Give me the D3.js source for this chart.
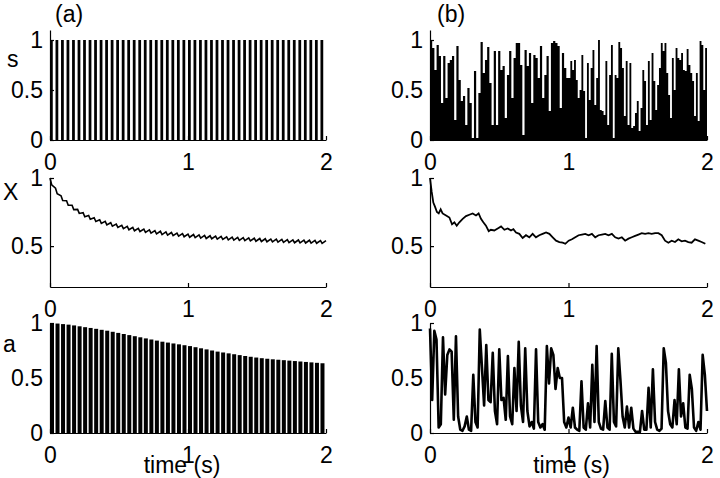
<!DOCTYPE html>
<html>
<head>
<meta charset="utf-8">
<script src="https://cdn.jsdelivr.net/npm/d3@7"></script>
<style>
body { margin: 0; background: #fff; }
svg { display: block; }
</style>
</head>
<body>
<div id="widget"></div>
<script>
/* Two columns of traces over 2 s:
	- (a) regular input: s, X, a
	- (b) irregular input: s, X, a
*/

// shared tick labels
var timeTicks = [0, 1, 2];
var sTicks = [0, 0.5, 1];
var xTicks = [0.5, 1];
var aTicks = [0, 0.5, 1];

// (a) spike times (s) and the spike value of s
var spikeTimesA = [0.00, 0.04, 0.08, 0.12, 0.16, 0.20, 0.24, 0.28, 0.32, 0.36,
	0.40, 0.44, 0.48, 0.52, 0.56, 0.60, 0.64, 0.68, 0.72, 0.76,
	0.80, 0.84, 0.88, 0.92, 0.96, 1.00, 1.04, 1.08, 1.12, 1.16,
	1.20, 1.24, 1.28, 1.32, 1.36, 1.40, 1.44, 1.48, 1.52, 1.56,
	1.60, 1.64, 1.68, 1.72, 1.76, 1.80, 1.84, 1.88, 1.92, 1.96];
var sSpikeValue = 1;

// (a) X just before and just after each spike
var xTopA = [1.00, 0.925, 0.87, 0.833, 0.80, 0.77, 0.745, 0.725, 0.708, 0.694,
	0.682, 0.672, 0.662, 0.653, 0.645, 0.638, 0.631, 0.625, 0.619, 0.614,
	0.609, 0.604, 0.60, 0.596, 0.592, 0.588, 0.585, 0.582, 0.579, 0.576,
	0.573, 0.571, 0.568, 0.566, 0.564, 0.562, 0.56, 0.558, 0.556, 0.554,
	0.552, 0.551, 0.549, 0.548, 0.546, 0.545, 0.544, 0.543, 0.542, 0.541];
var xBotA = [0.95, 0.885, 0.835, 0.80, 0.768, 0.74, 0.716, 0.697, 0.681, 0.667,
	0.656, 0.646, 0.637, 0.628, 0.62, 0.613, 0.607, 0.601, 0.595, 0.59,
	0.585, 0.581, 0.577, 0.573, 0.569, 0.565, 0.562, 0.559, 0.556, 0.554,
	0.551, 0.549, 0.546, 0.544, 0.542, 0.54, 0.538, 0.536, 0.534, 0.532,
	0.531, 0.529, 0.528, 0.526, 0.525, 0.524, 0.523, 0.522, 0.521, 0.52];
var xEndA = 0.54;

// (a) peak of a at each spike
var aPeaksA = [1.0, 0.995, 0.99, 0.985, 0.978, 0.97, 0.962, 0.955, 0.947, 0.938,
	0.93, 0.92, 0.91, 0.90, 0.89, 0.88, 0.87, 0.86, 0.85, 0.84,
	0.83, 0.822, 0.814, 0.806, 0.798, 0.79, 0.78, 0.77, 0.76, 0.75,
	0.74, 0.732, 0.724, 0.716, 0.708, 0.70, 0.693, 0.686, 0.68, 0.675,
	0.67, 0.666, 0.662, 0.658, 0.654, 0.65, 0.646, 0.642, 0.638, 0.634];

// (b) s, first and second second
var sFirstB = [1.00, 0.92, 0.70, 0.95, 0.84, 0.37, 0.84, 0.42, 0.77, 0.80,
	0.84, 0.20, 0.94, 0.60, 0.39, 0.44, 0.15, 0.52, 0.37, 0.02,
	0.69, 0.02, 0.47, 0.98, 0.67, 0.80, 0.93, 0.57, 0.15, 0.89,
	0.15, 0.89, 0.70, 0.74, 0.22, 0.65, 0.89, 0.42, 0.82, 0.97,
	0.97, 0.75, 0.05, 0.90, 0.74, 0.87, 0.37, 0.85, 0.82, 0.62,
	0.94, 0.42, 0.65, 0.84, 0.29, 0.97, 0.99, 0.97, 0.94, 0.32,
	0.87, 0.72, 0.62];
var sSecondB = [0.62, 0.79, 0.70, 0.80, 0.60, 0.42, 0.50, 0.85, 0.49, 0.02,
	0.77, 0.40, 0.72, 0.90, 0.35, 0.62, 1.00, 0.30, 0.29, 0.25,
	0.79, 0.15, 0.65, 0.95, 0.02, 0.65, 0.62, 0.98, 0.92, 0.72,
	0.24, 0.79, 0.15, 0.77, 0.12, 0.14, 0.27, 0.39, 0.09, 0.32,
	0.70, 0.59, 0.15, 0.79, 0.20, 0.87, 0.59, 0.30, 0.55, 0.72,
	0.97, 0.89, 0.97, 0.67, 0.45, 0.22, 0.82, 0.50, 0.92, 0.82,
	0.80, 0.87, 0.70, 0.69, 0.91, 0.75, 0.67, 0.59, 0.24, 0.67,
	0.19, 0.99, 0.95, 0.50, 0.92];

// (b) X trace
var xTimesB = [0, 0.012, 0.024, 0.036, 0.05, 0.063, 0.077, 0.091, 0.116, 0.14,
	0.159, 0.176, 0.193, 0.212, 0.236, 0.26, 0.284, 0.308, 0.332, 0.351,
	0.368, 0.385, 0.404, 0.424, 0.44, 0.464, 0.489, 0.513, 0.537, 0.561,
	0.585, 0.602, 0.621, 0.645, 0.669, 0.693, 0.717, 0.741, 0.765, 0.789,
	0.813, 0.838, 0.862, 0.886, 0.91, 0.934, 0.958, 0.977, 1.001, 1.025,
	1.049, 1.073, 1.097, 1.121, 1.145, 1.169, 1.193, 1.217, 1.241, 1.265,
	1.289, 1.313, 1.337, 1.361, 1.385, 1.409, 1.433, 1.457, 1.481, 1.505,
	1.529, 1.553, 1.577, 1.601, 1.625, 1.649, 1.673, 1.697, 1.721, 1.745,
	1.769, 1.793, 1.817, 1.841, 1.865, 1.889, 1.913, 1.937, 1.961, 1.988];
var xValuesB = [1.0, 0.90, 0.82, 0.79, 0.75, 0.74, 0.77, 0.74, 0.725, 0.71,
	0.66, 0.675, 0.65, 0.675, 0.70, 0.72, 0.73, 0.74, 0.725, 0.74,
	0.70, 0.675, 0.65, 0.61, 0.62, 0.615, 0.63, 0.645, 0.62, 0.63,
	0.615, 0.625, 0.60, 0.59, 0.56, 0.58, 0.565, 0.59, 0.565, 0.58,
	0.59, 0.60, 0.59, 0.565, 0.54, 0.53, 0.525, 0.517, 0.54, 0.55,
	0.565, 0.58, 0.585, 0.59, 0.58, 0.59, 0.565, 0.58, 0.585, 0.59,
	0.58, 0.59, 0.565, 0.555, 0.565, 0.54, 0.555, 0.565, 0.575, 0.585,
	0.595, 0.59, 0.595, 0.59, 0.595, 0.595, 0.58, 0.54, 0.525, 0.54,
	0.53, 0.55, 0.535, 0.54, 0.53, 0.525, 0.55, 0.54, 0.53, 0.517];

// (b) a, sampled every 1/64 s
var aFirstB = [0.95, 0.30, 0.93, 0.85, 0.05, 0.08, 0.87, 0.35, 0.71, 0.76,
	0.74, 0.12, 0.88, 0.15, 0.03, 0.02, 0.06, 0.15, 0.03, 0.02,
	0.53, 0.10, 0.05, 0.94, 0.60, 0.25, 0.80, 0.30, 0.28, 0.73,
	0.20, 0.08, 0.76, 0.30, 0.32, 0.12, 0.70, 0.15, 0.08, 0.59,
	0.20, 0.83, 0.25, 0.10, 0.77, 0.20, 0.06, 0.10, 0.04, 0.76,
	0.10, 0.05, 0.08, 0.03, 0.79, 0.45, 0.77, 0.71, 0.40, 0.59,
	0.50, 0.50, 0.10, 0.05];
var aSecondB = [0.14, 0.05, 0.23, 0.05, 0.03, 0.02, 0.47, 0.05, 0.03, 0.27,
	0.05, 0.62, 0.10, 0.79, 0.10, 0.04, 0.03, 0.29, 0.05, 0.03,
	0.72, 0.10, 0.06, 0.77, 0.48, 0.15, 0.05, 0.24, 0.05, 0.23,
	0.04, 0.01, 0.01, 0.01, 0.20, 0.03, 0.03, 0.41, 0.05, 0.58,
	0.10, 0.03, 0.02, 0.04, 0.77, 0.64, 0.20, 0.08, 0.05, 0.30,
	0.08, 0.58, 0.15, 0.27, 0.05, 0.04, 0.53, 0.40, 0.05, 0.02,
	0.10, 0.03, 0.71, 0.53, 0.20];

var fontFamily = "'Liberation Sans', Arial, Helvetica, sans-serif";

var svg = d3.select("#widget")
	.append("svg")
	.attr("width", 720)
	.attr("height", 478);

svg.append("rect")
	.attr("width", 720)
	.attr("height", 478)
	.style("fill", "#fff");

// scales: two columns, three rows
var xLeft = d3.scaleLinear().domain([0, 2]).range([50, 326]);
var xRight = d3.scaleLinear().domain([0, 2]).range([430, 707]);
var ySRow = d3.scaleLinear().domain([0, 1.1]).range([140, 30]);
var yXRow = d3.scaleLinear().domain([0.2, 1]).range([287, 178]);
var yARow = d3.scaleLinear().domain([0, 1]).range([433, 323]);

function drawAxes(x, y, yTicks) {
	var xg = svg.append("g")
		.attr("transform", "translate(0," + y.range()[0] + ")")
		.call(d3.axisBottom(x)
			.tickValues(timeTicks)
			.tickSizeInner(-4)
			.tickSizeOuter(0)
			.tickPadding(14)
			.tickFormat(d3.format("d")));
	var yg = svg.append("g")
		.attr("transform", "translate(" + x.range()[0] + ",0)")
		.call(d3.axisLeft(y)
			.tickValues(yTicks)
			.tickSizeInner(-4)
			.tickSizeOuter(0)
			.tickPadding(7)
			.tickFormat(function(d) {
			return String(d);
		}));
	[xg, yg].forEach(function(g) {
		g.attr("font-size", 23).attr("font-family", fontFamily);
		g.selectAll("path, line").style("stroke", "#000").style("stroke-width", 1.2);
		g.selectAll("text").style("fill", "#000");
	});
}

// (a) s : regular spikes
function drawSA() {
	svg.append("g").selectAll("rect")
		.data(spikeTimesA)
		.enter()
		.append("rect")
		.attr("x", function(d) {
		return xLeft(d);
	})
		.attr("width", xLeft(0.02) - xLeft(0))
		.attr("y", ySRow(sSpikeValue))
		.attr("height", ySRow(0) - ySRow(sSpikeValue))
		.style("fill", "#000");
}

// (a) X : sawtooth
function drawXA() {
	var pts = [];
	for (var i = 0; i < spikeTimesA.length; i++) {
		pts.push([spikeTimesA[i], xTopA[i]]);
		pts.push([spikeTimesA[i] + 0.012, xBotA[i]]);
	}
	pts.push([2, xEndA]);
	svg.append("path")
		.datum(pts)
		.attr("d", d3.line()
			.x(function(d) { return xLeft(d[0]); })
			.y(function(d) { return yXRow(d[1]); }))
		.style("fill", "none")
		.style("stroke", "#000")
		.style("stroke-width", 1.6);
}

// (a) a : decaying pulses
function drawAA() {
	svg.append("g").selectAll("rect")
		.data(spikeTimesA)
		.enter()
		.append("rect")
		.attr("x", function(d) {
		return xLeft(d);
	})
		.attr("width", xLeft(0.029) - xLeft(0))
		.attr("y", function(d, i) {
		return yARow(aPeaksA[i]);
	})
		.attr("height", function(d, i) {
		return yARow(0) - yARow(aPeaksA[i]);
	})
		.style("fill", "#000");
}

// (b) s : irregular input
function drawSB() {
	var pts = [];
	sFirstB.forEach(function(v, i) { pts.push([i / sFirstB.length, v]); });
	sSecondB.forEach(function(v, i) { pts.push([1 + i / sSecondB.length, v]); });
	pts.push([2, sSecondB[sSecondB.length - 1]]);
	svg.append("path")
		.datum(pts)
		.attr("d", d3.area()
			.curve(d3.curveStepAfter)
			.x(function(d) { return xRight(d[0]); })
			.y0(ySRow(0))
			.y1(function(d) { return ySRow(d[1]); }))
		.style("fill", "#000");
}

// (b) X
function drawXB() {
	svg.append("path")
		.datum(xTimesB.map(function(t, i) { return [t, xValuesB[i]]; }))
		.attr("d", d3.line()
			.x(function(d) { return xRight(d[0]); })
			.y(function(d) { return yXRow(d[1]); }))
		.style("fill", "none")
		.style("stroke", "#000")
		.style("stroke-width", 1.8);
}

// (b) a
function drawAB() {
	var pts = [];
	aFirstB.forEach(function(v, i) { pts.push([i / 64, v]); });
	aSecondB.forEach(function(v, i) { pts.push([1 + i / 64, v]); });
	svg.append("path")
		.datum(pts)
		.attr("d", d3.line()
			.x(function(d) { return xRight(d[0]); })
			.y(function(d) { return yARow(d[1]); }))
		.style("fill", "none")
		.style("stroke", "#000")
		.style("stroke-width", 2.6)
		.style("stroke-linejoin", "round");
}

function setLabels() {
	var labels = [
		{ text: "(a)", x: 55, y: 22, anchor: "start" },
		{ text: "(b)", x: 437, y: 22, anchor: "start" },
		{ text: "s", x: 7, y: 67, anchor: "start" },
		{ text: "X", x: 3, y: 200, anchor: "start" },
		{ text: "a", x: 3, y: 352, anchor: "start" },
		{ text: "time (s)", x: xLeft(1) - 6, y: 473, anchor: "middle" },
		{ text: "time (s)", x: xRight(1) + 3, y: 473, anchor: "middle" }
	];
	svg.selectAll("text.label")
		.data(labels)
		.enter()
		.append("text")
		.attr("class", "label")
		.attr("x", function(d) { return d.x; })
		.attr("y", function(d) { return d.y; })
		.attr("font-family", fontFamily)
		.attr("font-size", "23px")
		.style("text-anchor", function(d) { return d.anchor; })
		.text(function(d) { return d.text; });
}

drawSA();
drawXA();
drawAA();
drawSB();
drawXB();
drawAB();

drawAxes(xLeft, ySRow, sTicks);
drawAxes(xLeft, yXRow, xTicks);
drawAxes(xLeft, yARow, aTicks);
drawAxes(xRight, ySRow, sTicks);
drawAxes(xRight, yXRow, xTicks);
drawAxes(xRight, yARow, aTicks);

setLabels();
</script>
</body>
</html>
